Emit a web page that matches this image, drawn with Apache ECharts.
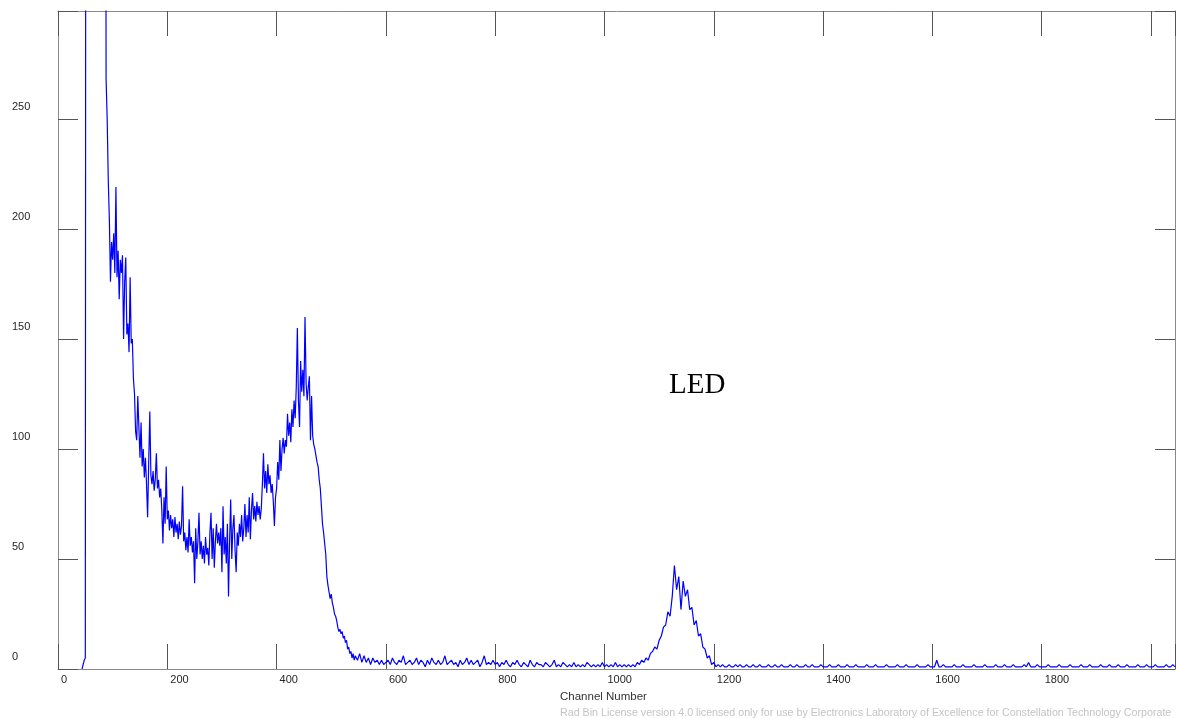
<!DOCTYPE html>
<html>
<head>
<meta charset="utf-8">
<script src="https://cdn.jsdelivr.net/npm/echarts@6/dist/echarts.min.js"></script>
<style>
  html, body { margin: 0; padding: 0; background: #ffffff; }
  #chart { width: 1178px; height: 719px; }
</style>
</head>
<body>
<div id="chart"></div>
<script>
// Counts. Values of 1000 lie above the visible range (clipped).
// Dense part: one value every 2 channels from channel 44 to 542.
const denseStart = 44;
const denseStep = 2;
const denseCounts = [
  // 44 - 92
  0,0,4,5,1000,1000,1000,1000,1000,1000,1000,1000,1000,1000,1000,1000,1000,1000,1000,1000,1000,1000,268,250,222,
  // 94 - 142
  204,176,194,186,198,180,219,178,190,168,186,180,188,150,176,187,152,157,144,178,148,150,132,125,108,
  // 144 - 192
  104,124,110,96,112,92,100,87,96,84,69,94,117,88,84,90,81,86,98,82,86,78,82,72,57,
  // 194 - 242
  78,66,92,68,72,63,70,64,68,60,69,62,66,59,67,61,65,83,58,62,54,60,53,68,56,
  // 244 - 292
  60,53,58,39,64,50,58,71,52,58,50,56,48,60,52,55,47,62,71,50,64,46,58,66,57,
  // 294 - 342
  62,56,64,44,74,52,60,48,66,33,58,77,50,64,70,54,44,62,56,66,60,70,58,64,75,
  // 344 - 392
  60,70,62,78,59,72,80,68,74,67,76,70,74,68,73,84,98,82,90,80,93,84,88,80,84,
  // 394 - 442
  76,65,78,82,94,86,104,90,100,105,98,104,101,116,106,112,103,118,110,122,114,128,155,122,110,
  // 444 - 492
  140,126,136,124,160,130,122,128,133,104,124,106,102,100,97,94,92,86,82,74,66,62,57,52,42,
  // 494 - 542
  38,35,32,34,30,28,25,24,22,19,17,18,16,17,14,15,12,13,9,10,7,8,5,7,4
];
// Sparse part: one value every 4 channels from channel 544 to 2044.
const sparseStart = 544;
const sparseStep = 4;
const sparseCounts = [
  // 544 - 640
  6,4,7,3,6,3,5,2,5,3,4,2,4,2,3,4,2,5,3,2,4,3,6,2,3,
  // 644 - 740
  4,2,3,5,2,4,3,1,4,2,5,3,2,4,2,3,6,2,3,4,2,3,1,4,2,
  // 744 - 840
  3,5,2,4,2,3,4,1,3,6,2,3,2,4,2,3,1,3,2,4,2,1,3,2,4,
  // 844 - 940
  2,1,3,2,1,4,2,1,3,2,2,1,3,2,1,2,4,1,2,1,3,2,1,2,1,
  // 944 - 1040
  3,1,2,1,2,1,3,2,1,2,1,2,1,3,1,2,1,2,1,3,1,2,1,2,1,
  // 1044 - 1140
  2,1,2,1,3,2,4,3,5,4,7,8,10,9,13,15,19,20,26,24,33,47,36,42,27,
  // 1144 - 1240
  40,33,36,27,28,20,22,15,16,10,9,5,6,2,3,1,2,1,2,1,1,2,1,1,2,
  // 1244 - 1340
  1,2,1,1,2,1,1,2,1,1,2,1,1,1,2,1,1,2,1,1,2,1,1,1,2,
  // 1344 - 1440
  1,1,2,1,1,1,2,1,1,2,1,1,1,2,1,1,1,2,1,1,1,2,1,1,1,
  // 1444 - 1540
  2,1,1,1,2,1,1,1,1,2,1,1,1,2,1,1,1,1,2,1,1,1,1,2,1,
  // 1544 - 1640
  1,1,2,1,1,1,1,2,1,1,1,1,2,1,1,1,4,1,1,2,1,1,1,1,2,
  // 1644 - 1740
  1,1,1,2,1,1,1,1,2,1,1,1,1,2,1,1,1,1,2,1,1,1,2,1,1,
  // 1744 - 1840
  1,2,1,1,1,1,2,1,3,1,1,1,2,1,1,1,1,2,1,1,1,1,2,1,1,
  // 1844 - 1940
  1,1,2,1,1,1,1,2,1,1,1,2,1,1,1,1,2,1,1,1,2,1,1,1,2,
  // 1944 - 2040
  1,1,1,2,1,1,1,1,2,1,1,1,2,1,1,1,2,1,1,1,1,2,1,1,2,
  // 2044
  1
];

const xTickLabels = ['0','200','400','600','800','1000','1200','1400','1600','1800'];
const yTickLabels = ['0','50','100','150','200','250'];
const xAxisTitle = 'Channel Number';
const peakLabel = 'LED';
const footerText = 'Rad Bin License version 4.0 licensed only for use by Electronics Laboratory of Excellence for Constellation Technology Corporate';

const seriesData = denseCounts.map((v, i) => [denseStart + i * denseStep, v])
  .concat(sparseCounts.map((v, i) => [sparseStart + i * sparseStep, v]));

const chart = echarts.init(document.getElementById('chart'), null, { renderer: 'canvas' });

const axisColor = '#8a8a8a';
const tickColor = '#555555';
const labelFont = { fontFamily: 'Liberation Sans, Arial, sans-serif', fontSize: 11, color: '#262626' };

const xFormatter = (v) => {
  const i = v / 200;
  return (Number.isInteger(i) && i < xTickLabels.length) ? xTickLabels[i] : '';
};
const yFormatter = (v) => {
  const i = v / 50;
  return (Number.isInteger(i) && i < yTickLabels.length) ? yTickLabels[i] : '';
};

chart.setOption({
  animation: false,
  backgroundColor: '#ffffff',
  title: [
    {
      text: xAxisTitle, left: 555, top: 686,
      textStyle: { fontFamily: 'Liberation Sans, Arial, sans-serif', fontSize: 11.5, fontWeight: 'normal', color: '#333333' }
    },
    {
      text: peakLabel, left: 664, top: 366,
      textStyle: { fontFamily: 'Liberation Serif, Times New Roman, serif', fontSize: 29, fontWeight: 'normal', color: '#000000' }
    },
    {
      text: footerText, left: 555, top: 703,
      textStyle: { fontFamily: 'Liberation Sans, Arial, sans-serif', fontSize: 10.7, fontWeight: 'normal', color: '#c4c4c4' }
    }
  ],
  grid: { left: 58, right: 2, top: 11, bottom: 50, containLabel: false },
  xAxis: [
    {
      type: 'value', position: 'bottom', min: 0, max: 2044, interval: 200,
      axisLine: { show: true, onZero: false, lineStyle: { color: axisColor, width: 1 } },
      axisTick: { show: true, inside: true, length: 25, lineStyle: { color: tickColor, width: 1 } },
      axisLabel: Object.assign({ show: true, formatter: xFormatter, align: 'left', margin: 5, padding: [0, 0, 0, 3] }, labelFont),
      splitLine: { show: false }
    },
    {
      type: 'value', position: 'top', min: 0, max: 2044, interval: 200,
      axisLine: { show: true, onZero: false, lineStyle: { color: axisColor, width: 1 } },
      axisTick: { show: true, inside: true, length: 25, lineStyle: { color: tickColor, width: 1 } },
      axisLabel: { show: false },
      splitLine: { show: false }
    }
  ],
  yAxis: [
    {
      type: 'value', position: 'left', min: 0, max: 299, interval: 50,
      axisLine: { show: true, onZero: false, lineStyle: { color: axisColor, width: 1 } },
      axisTick: { show: true, inside: true, length: 20, lineStyle: { color: tickColor, width: 1 } },
      axisLabel: Object.assign({ show: true, formatter: yFormatter, align: 'left', margin: 46, verticalAlign: 'bottom', lineHeight: 24 }, labelFont),
      splitLine: { show: false }
    },
    {
      type: 'value', position: 'right', min: 0, max: 299, interval: 50,
      axisLine: { show: true, onZero: false, lineStyle: { color: axisColor, width: 1 } },
      axisTick: { show: true, inside: true, length: 20, lineStyle: { color: tickColor, width: 1 } },
      axisLabel: { show: false },
      splitLine: { show: false }
    }
  ],
  series: [
    {
      type: 'line',
      xAxisIndex: 0, yAxisIndex: 0,
      data: seriesData,
      showSymbol: false,
      symbol: 'none',
      clip: true,
      lineStyle: { color: '#0000ff', width: 1.2 },
      itemStyle: { color: '#0000ff' }
    }
  ]
});
</script>
</body>
</html>
